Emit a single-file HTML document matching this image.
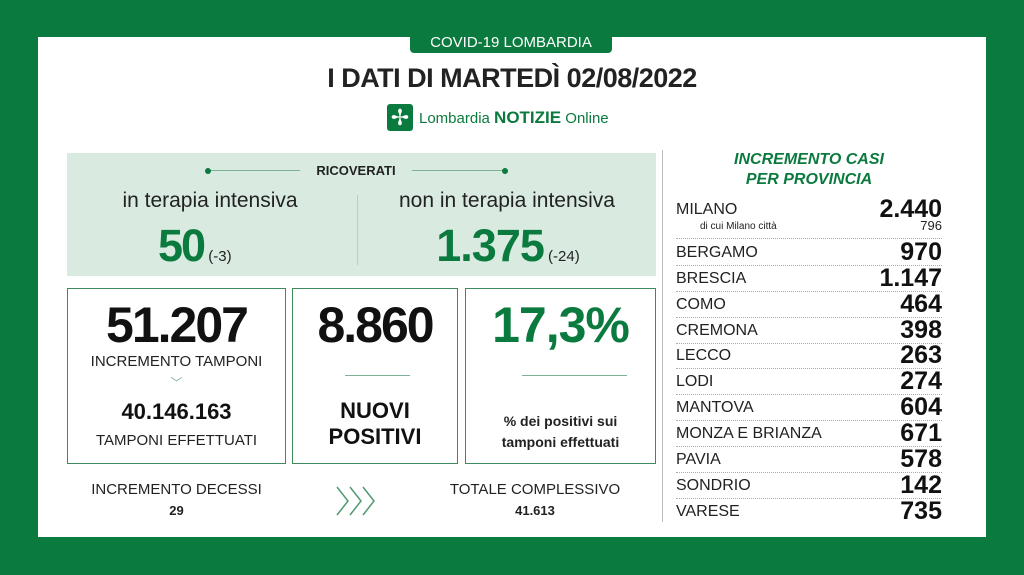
<!DOCTYPE html>
<html><head><meta charset="utf-8"><style>
*{margin:0;padding:0;box-sizing:border-box}
body{width:1024px;height:575px;background:#0b7a3e;font-family:"Liberation Sans",sans-serif;position:relative;overflow:hidden}
.a{position:absolute}
.panel{left:38px;top:37px;width:948px;height:500px;background:#fff}
.c{text-align:center}
.g{color:#0b7a3e}
.box{border:1.5px solid #3d8a5e;background:#fff}
.row{position:absolute;left:676px;width:266px;font-size:16px;color:#222;border-bottom:1px dotted #aaa;height:26px}
.row span{position:absolute;left:0;top:4px}
.row b{position:absolute;right:0;top:-2px;font-size:25px;color:#111}
</style></head><body>
<div class="a panel"></div>
<div class="a c" style="left:410px;top:33px;width:202px;height:20px;background:#0b7a3e;color:#fff;font-size:15px;line-height:20px;border-radius:0 0 4px 4px">COVID-19 LOMBARDIA</div>
<div class="a c" style="left:300px;top:63px;width:424px;font-size:27px;font-weight:bold;color:#222;letter-spacing:-0.5px">I DATI DI MARTEDÌ 02/08/2022</div>
<div class="a" style="left:387px;top:104px;width:26px;height:27px;background:#0b7a3e;border-radius:3px;color:#fff;font-size:22px;text-align:center;line-height:27px">✢</div>
<div class="a g" style="left:419px;top:108px;font-size:15px">Lombardia <b style="font-size:17px">NOTIZIE</b> Online</div>

<div class="a" style="left:67px;top:153px;width:589px;height:123px;background:#d9ebe0"></div>
<div class="a" style="left:207px;top:170px;width:300px;height:1px;background:#7fb196"></div>
<div class="a" style="left:205px;top:168px;width:6px;height:6px;border-radius:3px;background:#0b7a3e"></div>
<div class="a" style="left:502px;top:168px;width:6px;height:6px;border-radius:3px;background:#0b7a3e"></div>
<div class="a c" style="left:300px;top:163px;width:112px;background:#d9ebe0;font-size:13px;font-weight:bold;color:#222">RICOVERATI</div>
<div class="a" style="left:357px;top:195px;width:1px;height:70px;background:#b9cfc2"></div>
<div class="a c" style="left:90px;top:189px;width:240px;font-size:21px;color:#222">in terapia intensiva</div>
<div class="a c" style="left:372px;top:189px;width:270px;font-size:21px;color:#222">non in terapia intensiva</div>
<div class="a g" style="left:158px;top:220px;font-size:45px;font-weight:bold;letter-spacing:-2px">50<span style="font-size:15px;color:#222;font-weight:normal;letter-spacing:0"> (-3)</span></div>
<div class="a g" style="left:358px;top:220px;width:300px;text-align:center;font-size:45px;font-weight:bold;letter-spacing:-1px">1.375<span style="font-size:15px;color:#222;font-weight:normal;letter-spacing:0"> (-24)</span></div>

<div class="a box" style="left:67px;top:288px;width:219px;height:176px"></div>
<div class="a box" style="left:292px;top:288px;width:166px;height:176px"></div>
<div class="a box" style="left:465px;top:288px;width:191px;height:176px"></div>
<div class="a c" style="left:67px;top:296px;width:219px;font-size:50px;font-weight:bold;color:#111;letter-spacing:-2px">51.207</div>
<div class="a c" style="left:67px;top:353px;width:219px;font-size:15px;color:#222">INCREMENTO TAMPONI</div>
<div class="a c" style="left:67px;top:374px;width:219px;font-size:12px;color:#7fb196">﹀</div>
<div class="a c" style="left:67px;top:399px;width:219px;font-size:22px;font-weight:bold;color:#111">40.146.163</div>
<div class="a c" style="left:67px;top:432px;width:219px;font-size:15px;color:#222">TAMPONI EFFETTUATI</div>
<div class="a c" style="left:292px;top:296px;width:166px;font-size:50px;font-weight:bold;color:#111;letter-spacing:-2px">8.860</div>
<div class="a" style="left:345px;top:375px;width:65px;height:1px;background:#7fb196"></div>
<div class="a c" style="left:292px;top:398px;width:166px;font-size:22px;font-weight:bold;color:#111;line-height:26px">NUOVI<br>POSITIVI</div>
<div class="a c g" style="left:465px;top:296px;width:191px;font-size:50px;font-weight:bold;letter-spacing:-1px">17,3%</div>
<div class="a" style="left:522px;top:375px;width:105px;height:1px;background:#7fb196"></div>
<div class="a c" style="left:465px;top:411px;width:191px;font-size:14px;font-weight:bold;color:#222;line-height:21px">% dei positivi sui<br>tamponi effettuati</div>

<div class="a c" style="left:67px;top:481px;width:219px;font-size:15px;color:#222">INCREMENTO DECESSI</div>
<div class="a c" style="left:67px;top:503px;width:219px;font-size:13px;font-weight:bold;color:#222">29</div>
<svg class="a" style="left:334px;top:484px" width="48" height="34"><g fill="none" stroke="#4f9a70" stroke-width="1.5"><path d="M3 3 L14 17 L3 31"/><path d="M16 3 L27 17 L16 31"/><path d="M29 3 L40 17 L29 31"/></g></svg>
<div class="a c" style="left:430px;top:481px;width:210px;font-size:15px;color:#222">TOTALE COMPLESSIVO</div>
<div class="a c" style="left:430px;top:503px;width:210px;font-size:13px;font-weight:bold;color:#222">41.613</div>

<div class="a" style="left:662px;top:150px;width:1px;height:372px;background:#bbb"></div>
<div class="a c g" style="left:676px;top:150px;width:266px;font-size:16px;font-weight:bold;font-style:italic;line-height:20px">INCREMENTO CASI<br>PER PROVINCIA</div>
<div class="row" style="top:197px;height:42px"><span>MILANO</span><b>2.440</b><i style="position:absolute;left:24px;top:24px;font-size:10px;font-style:normal">di cui Milano città</i><i style="position:absolute;right:0;top:21px;font-size:13px;font-style:normal">796</i></div>
<div class="row" style="top:240px"><span>BERGAMO</span><b>970</b></div>
<div class="row" style="top:266px"><span>BRESCIA</span><b>1.147</b></div>
<div class="row" style="top:292px"><span>COMO</span><b>464</b></div>
<div class="row" style="top:318px"><span>CREMONA</span><b>398</b></div>
<div class="row" style="top:343px"><span>LECCO</span><b>263</b></div>
<div class="row" style="top:369px"><span>LODI</span><b>274</b></div>
<div class="row" style="top:395px"><span>MANTOVA</span><b>604</b></div>
<div class="row" style="top:421px"><span>MONZA E BRIANZA</span><b>671</b></div>
<div class="row" style="top:447px"><span>PAVIA</span><b>578</b></div>
<div class="row" style="top:473px"><span>SONDRIO</span><b>142</b></div>
<div class="row" style="top:499px;border:none"><span>VARESE</span><b>735</b></div>
</body></html>
